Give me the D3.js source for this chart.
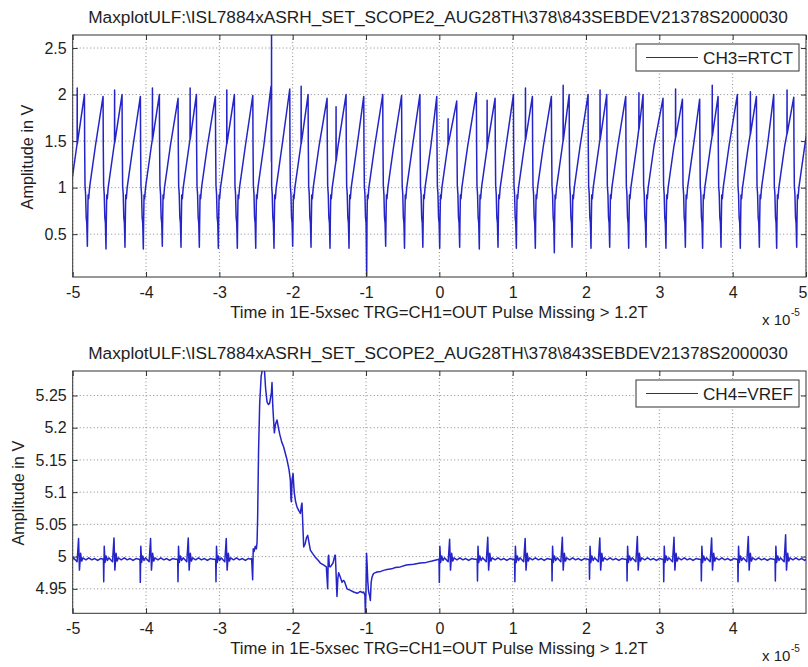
<!DOCTYPE html>
<html><head><meta charset="utf-8">
<script src="https://cdn.jsdelivr.net/npm/d3@7"></script>
<style>
body{margin:0;background:#fff}
svg{display:block}
text{font-family:"Liberation Sans",Arial,Helvetica,sans-serif;fill:#1e1e1e}
</style></head>
<body><svg id="c" width="808" height="667"></svg>
<script>
// ---------------- DATA ----------------
const titleText = "MaxplotULF:\\ISL7884xASRH_SET_SCOPE2_AUG28TH\\378\\843SEBDEV21378S2000030";
const xLabelText = "Time in 1E-5xsec TRG=CH1=OUT Pulse Missing > 1.2T";
const yLabelText = "Amplitude in V";
const ch3Name = "CH3=RTCT";
const ch4Name = "CH4=VREF";

const ch3XTicks = [-5,-4,-3,-2,-1,0,1,2,3,4,5];
const ch3YTicks = [0.5,1,1.5,2,2.5];
const ch4XTicks = [-5,-4,-3,-2,-1,0,1,2,3,4];
const ch4YTicks = [4.95,5,5.05,5.1,5.15,5.2,5.25];

// CH3: sawtooth, trough times / trough values / peak values of each ramp
const ch3TroughT = [-5.054,-4.800,-4.546,-4.287,-4.037,-3.778,-3.523,-3.273,-3.014,-2.755,-2.504,
  -2.255,-2.000,-1.750,-1.491,-1.232,-0.991,-0.732,-0.475,-0.225,0.005,0.277,0.545,0.800,1.050,
  1.309,1.568,1.810,2.068,2.323,2.582,2.818,3.090,3.355,3.590,3.841,4.104,4.364,4.600,4.873,5.127];
const ch3TroughV = [0.37,0.37,0.34,0.36,0.34,0.37,0.36,0.36,0.35,0.35,0.35,
  0.35,0.37,0.36,0.35,0.35,0.05,0.37,0.35,0.36,0.35,0.36,0.34,0.36,0.35,
  0.35,0.30,0.36,0.35,0.36,0.35,0.36,0.35,0.36,0.35,0.36,0.35,0.36,0.35,0.36,0.37];
const ch3PeakV = [2.00,1.98,2.00,1.98,2.00,1.96,2.00,1.98,2.00,1.99,2.09,
  2.06,2.00,1.96,2.00,1.98,2.00,1.99,2.00,1.98,1.93,2.02,1.96,2.00,1.98,
  1.98,2.00,2.00,2.00,1.98,2.00,1.96,1.95,1.95,1.98,2.00,1.98,2.00,1.97,1.97];
// ramp start after trough [dt, V], drop after peak [dt, V]
const ch3RampShape = [[0.004,0.62],[0.010,0.92],[0.018,0.88],[0.030,1.00],[0.110,1.45]];
const ch3DropShape = [[0.003,1.45],[0.008,1.02],[0.016,0.93],[0.024,0.68],[0.032,0.62]];
const ch3PeakLead = 0.04;
// narrow glitches [time, top value]
const ch3Spikes = [[-4.94,2.07],[-4.43,2.05],[-3.914,2.07],[-3.40,2.07],[-2.90,2.05],[-2.29,2.64],
  [-1.886,2.09],[-1.41,1.87],[0.118,1.74],[0.65,1.94],[1.173,2.07],[1.687,2.10],[2.19,2.05],
  [2.72,2.02],[3.22,2.06],[3.72,2.10],[4.24,2.03],[4.74,2.05]];

// CH4: ringing bursts on a flat level, plus the transient
const ch4Level = 4.996;
const ch4BurstT    = [-5.06,-4.577,-4.078,-3.564,-3.046, 0.0,0.52,1.03,1.537,2.048,2.56,3.06,3.573,4.073,4.582];
const ch4BurstLow  = [4.961,4.961,4.960,4.961,4.961, 4.960,4.962,4.961,4.962,4.965,4.962,4.961,4.962,4.961,4.962];
const ch4BurstHigh = [5.028,5.029,5.028,5.029,5.028, 5.027,5.030,5.028,5.030,5.029,5.031,5.030,5.029,5.031,5.034];
// [dt, offset from level]; 'L' = low spike, 'H' = high spike
const ch4BurstShape = [[-0.012,0.000],[-0.004,-0.002],[0,'L'],[0.007,0.020],[0.018,-0.005],[0.032,0.005],
  [0.05,-0.002],[0.07,0.002],[0.095,-0.001],[0.12,-0.004],[0.14,'H'],[0.152,-0.017],[0.168,0.009],
  [0.182,-0.003],[0.2,0.002],[0.24,-0.001],[0.28,0.002],[0.32,-0.001],[0.36,0.001],[0.40,-0.002],
  [0.44,0.001],[0.48,0.0]];
const ch4Transient = [[-2.56,4.997],[-2.546,4.964],[-2.538,5.012],[-2.525,5.008],[-2.51,5.016],[-2.495,5.012],
  [-2.486,5.022],[-2.478,5.06],[-2.466,5.16],[-2.45,5.238],[-2.43,5.28],[-2.405,5.295],[-2.385,5.29],
  [-2.37,5.262],[-2.35,5.240],[-2.33,5.236],[-2.314,5.238],[-2.29,5.255],[-2.282,5.27],[-2.272,5.235],
  [-2.262,5.215],[-2.25,5.192],[-2.235,5.205],[-2.214,5.212],[-2.195,5.200],[-2.177,5.19],[-2.15,5.178],
  [-2.123,5.170],[-2.1,5.16],[-2.077,5.150],[-2.05,5.135],[-2.032,5.119],[-2.024,5.09],[-2.018,5.085],
  [-2.008,5.12],[-1.995,5.129],[-1.985,5.11],[-1.977,5.098],[-1.96,5.085],[-1.941,5.077],[-1.92,5.072],
  [-1.895,5.067],[-1.88,5.08],[-1.873,5.083],[-1.862,5.05],[-1.85,5.015],[-1.83,5.02],[-1.81,5.03],
  [-1.795,5.033],[-1.775,5.02],[-1.759,5.010],[-1.73,5.005],[-1.691,4.999],[-1.65,4.994],[-1.623,4.990],
  [-1.58,4.987],[-1.541,4.984],[-1.523,4.950],[-1.515,5.0],[-1.509,5.002],[-1.5,4.985],[-1.486,4.984],
  [-1.45,4.99],[-1.425,5.002],[-1.418,5.002],[-1.396,4.938],[-1.385,4.965],[-1.373,4.975],[-1.35,4.968],
  [-1.327,4.960],[-1.31,4.963],[-1.296,4.962],[-1.259,4.950],[-1.22,4.948],[-1.168,4.945],[-1.12,4.943],
  [-1.077,4.946],[-1.05,4.944],[-1.032,4.945],[-1.015,4.94],[-1.009,4.912],[-1.0,4.95],[-0.993,5.005],
  [-0.986,4.99],[-0.975,4.96],[-0.964,4.945],[-0.952,4.94],[-0.941,4.932],[-0.93,4.96],[-0.918,4.968],
  [-0.905,4.972],[-0.895,4.974],[-0.85,4.976],[-0.8,4.977],[-0.75,4.979],[-0.714,4.980],[-0.65,4.981],
  [-0.6,4.983],[-0.532,4.984],[-0.45,4.987],[-0.35,4.988],[-0.259,4.990],[-0.18,4.991],[-0.1,4.993],
  [-0.03,4.995]];

// ---------------- BUILD SERIES ----------------
const ch3 = [];
for (let k = 0; k < ch3TroughT.length; k++) {
  const t0 = ch3TroughT[k];
  ch3.push([t0, ch3TroughV[k]]);
  if (k === ch3TroughT.length - 1) break;
  ch3RampShape.forEach(([dt, v]) => ch3.push([t0 + dt, v]));
  const tp = ch3TroughT[k + 1] - ch3PeakLead;
  ch3.push([tp, ch3PeakV[k]]);
  ch3DropShape.forEach(([dt, v]) => ch3.push([tp + dt, v]));
}
ch3Spikes.forEach(([ts, top]) => {
  const i = d3.bisector(d => d[0]).right(ch3, ts) - 1;
  const a = ch3[i], b = ch3[i + 1];
  const base = a[1] + (b[1] - a[1]) * (ts - a[0]) / (b[0] - a[0]);
  ch3.splice(i + 1, 0, [ts, base], [ts + 0.0015, top], [ts + 0.003, base]);
});

const ch4 = [];
function addBurst(j) {
  const t = ch4BurstT[j];
  ch4BurstShape.forEach(([dt, dv]) => {
    const v = dv === 'L' ? ch4BurstLow[j] : dv === 'H' ? ch4BurstHigh[j] : ch4Level + dv;
    ch4.push([t + dt, v]);
  });
}
ch4BurstT.forEach((t, j) => { if (t < -2.6) addBurst(j); });
ch4Transient.forEach(p => ch4.push(p));
ch4BurstT.forEach((t, j) => { if (t >= -0.1) addBurst(j); });

// ---------------- DRAW ----------------
const svg = d3.select('#c');
const lineColor = '#2424c8';
const axisColor = '#333';
const left = 72.7, right = 806;

function fitText(sel, target) {
  const base = 16;
  sel.style('font-size', base + 'px');
  const w = sel.node().getComputedTextLength();
  sel.style('font-size', (base * target / w) + 'px');
}

const panels = [
  {top: 35, bottom: 277, xDomain: [-5, 5], yDomain: [0.04, 2.64], xTicks: ch3XTicks, yTicks: ch3YTicks,
   data: ch3, name: ch3Name, titleY: 22.5, tickPad: 9.5, xLabelY: 318.3, expY: 325,
   legend: {x0: 636, y0: 44, x1: 799, y1: 71}, yLabelX: 32.5, id: 'p1'},
  {top: 371, bottom: 613.3, xDomain: [-5, 5.0], yDomain: [4.912, 5.288], xTicks: ch4XTicks, yTicks: ch4YTicks,
   data: ch4, name: ch4Name, titleY: 359, tickPad: 9, xLabelY: 654.3, expY: 661,
   legend: {x0: 636, y0: 380, x1: 799, y1: 407}, yLabelX: 23.5, id: 'p2'}
];

panels.forEach(p => {
  const x = d3.scaleLinear().domain(p.xDomain).range([left, right]);
  const y = d3.scaleLinear().domain(p.yDomain).range([p.bottom, p.top]);
  const g = svg.append('g');

  g.append('rect').attr('x', left).attr('y', p.top).attr('width', right - left).attr('height', p.bottom - p.top)
    .attr('fill', '#fff');

  // grid
  const grid = g.append('g').attr('stroke', '#8a8a8a').attr('stroke-width', 1).attr('stroke-dasharray', '1,2.5');
  p.xTicks.forEach(t => grid.append('line').attr('x1', x(t)).attr('x2', x(t)).attr('y1', p.top).attr('y2', p.bottom));
  p.yTicks.forEach(t => grid.append('line').attr('x1', left).attr('x2', right).attr('y1', y(t)).attr('y2', y(t)));

  // data
  svg.append('clipPath').attr('id', 'clip' + p.id).append('rect')
    .attr('x', left).attr('y', p.top).attr('width', right - left).attr('height', p.bottom - p.top);
  g.append('path').datum(p.data)
    .attr('clip-path', 'url(#clip' + p.id + ')')
    .attr('fill', 'none').attr('stroke', lineColor).attr('stroke-width', 1.5).attr('stroke-linejoin', 'round')
    .attr('d', d3.line().x(d => x(d[0])).y(d => y(d[1])));

  // axes
  const ax = g.append('g').attr('transform', `translate(0,${p.bottom})`)
    .call(d3.axisBottom(x).tickValues(p.xTicks).tickFormat(d => String(d)).tickSizeInner(-5).tickSizeOuter(0).tickPadding(p.tickPad));
  const ay = g.append('g').attr('transform', `translate(${left},0)`)
    .call(d3.axisLeft(y).tickValues(p.yTicks).tickFormat(d => String(d)).tickSizeInner(-5).tickSizeOuter(0).tickPadding(6));
  const axT = g.append('g').attr('transform', `translate(0,${p.top})`)
    .call(d3.axisTop(x).tickValues(p.xTicks).tickFormat('').tickSizeInner(-5).tickSizeOuter(0));
  const ayR = g.append('g').attr('transform', `translate(${right},0)`)
    .call(d3.axisRight(y).tickValues(p.yTicks).tickFormat('').tickSizeInner(-5).tickSizeOuter(0));
  [ax, ay, axT, ayR].forEach(a => {
    a.select('.domain').remove();
    a.selectAll('line').attr('stroke', axisColor);
    a.selectAll('text').attr('fill', '#1e1e1e').style('font-size', '16px')
      .style('font-family', '"Liberation Sans",Arial,sans-serif');
  });
  // keep the last label at the right edge inside the picture
  ax.selectAll('.tick').filter(d => x(d) > 800).select('text')
    .attr('text-anchor', 'end').attr('x', 807 - x(p.xDomain[1]));

  g.append('rect').attr('x', left).attr('y', p.top).attr('width', right - left).attr('height', p.bottom - p.top)
    .attr('fill', 'none').attr('stroke', axisColor).attr('stroke-width', 1);

  // title
  const tt = g.append('text').attr('x', 438).attr('y', p.titleY).attr('text-anchor', 'middle').text(titleText);
  fitText(tt, 700);

  // x label
  const xl = g.append('text').attr('x', 439).attr('y', p.xLabelY).attr('text-anchor', 'middle').text(xLabelText);
  fitText(xl, 418);

  // exponent
  g.append('text').attr('x', 762).attr('y', p.expY).style('font-size', '15px').text('x 10');
  g.append('text').attr('x', 791).attr('y', p.expY - 9).style('font-size', '10px').text('-5');

  // y label
  const cy = (p.top + p.bottom) / 2 + 1;
  const yl = g.append('text').attr('transform', `translate(${p.yLabelX},${cy}) rotate(-90)`)
    .attr('text-anchor', 'middle').text(yLabelText);
  fitText(yl, 105);

  // legend
  const L = p.legend;
  g.append('rect').attr('x', L.x0).attr('y', L.y0).attr('width', L.x1 - L.x0).attr('height', L.y1 - L.y0)
    .attr('fill', '#fff').attr('stroke', axisColor).attr('stroke-width', 1);
  const ly = (L.y0 + L.y1) / 2;
  g.append('line').attr('x1', 646).attr('x2', 698).attr('y1', ly).attr('y2', ly)
    .attr('stroke', lineColor).attr('stroke-width', 1.2);
  const lt = g.append('text').attr('x', 703).attr('y', ly).attr('dy', '0.36em').text(p.name);
  fitText(lt, 90);
});
</script>
</body></html>
